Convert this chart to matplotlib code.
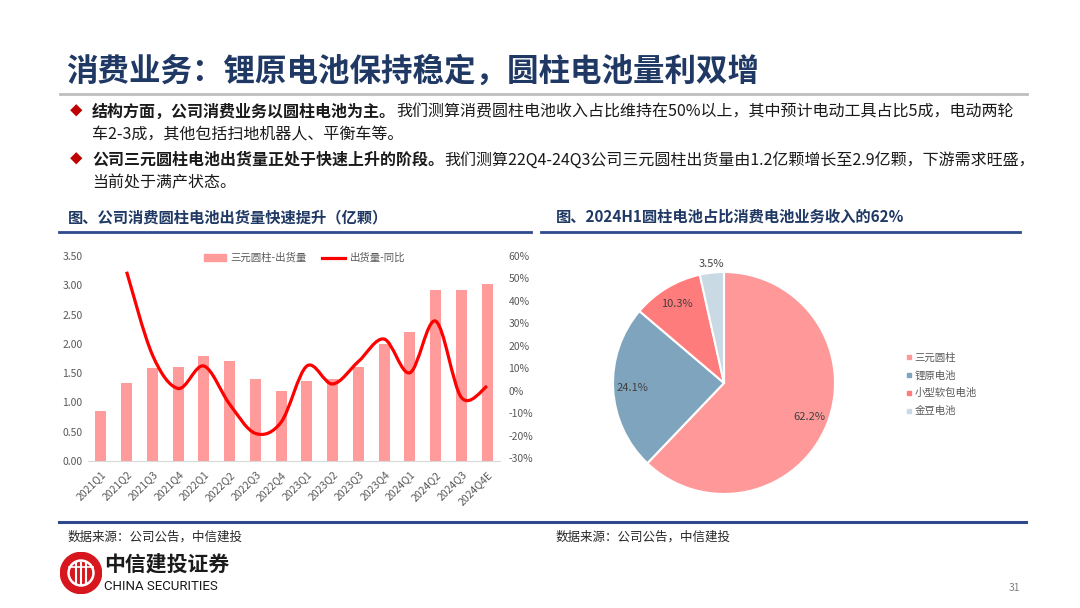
import matplotlib
matplotlib.use("Agg")
import matplotlib.pyplot as plt
from matplotlib.path import Path
from matplotlib.patches import PathPatch, Circle, Patch
from matplotlib.lines import Line2D

plt.rcParams['font.family'] = ['Noto Sans CJK SC', 'DejaVu Sans']
plt.rcParams['axes.unicode_minus'] = False

# ---- data ----
quarters = ["2021Q1", "2021Q2", "2021Q3", "2021Q4", "2022Q1", "2022Q2", "2022Q3", "2022Q4",
            "2023Q1", "2023Q2", "2023Q3", "2023Q4", "2024Q1", "2024Q2", "2024Q3", "2024Q4E"]
shipments = [0.85, 1.33, 1.58, 1.60, 1.80, 1.70, 1.40, 1.20,
             1.36, 1.40, 1.60, 2.00, 2.20, 2.92, 2.92, 3.02]
growth = [None, 53, 16, 1, 11, -6, -19, -14, 11, 3, 13, 23, 8, 31, -3, 2]

pie_labels = ["三元圆柱", "锂原电池", "小型软包电池", "金豆电池"]
pie_values = [62.2, 24.1, 10.3, 3.5]
pie_colors = ["#FF9999", "#7FA5BE", "#FF7C7C", "#CADAE5"]

W, H = 1080, 608
NAVY = "#1F3864"
GRAY = "#595959"


def fx(x):
    return x / W


def fy(y):
    return 1 - y / H


fig = plt.figure(figsize=(W / 100, H / 100), dpi=100)
fig.patch.set_facecolor("white")

# ---- header ----
fig.text(fx(66), fy(72), "消费业务：锂原电池保持稳定，圆柱电池量利双增", fontsize=22.7,
         fontweight="bold", color=NAVY, va="center", ha="left")
fig.add_artist(Line2D([fx(60), fx(1027)], [fy(94), fy(94)], color="#BFBFBF", lw=2))

renderer = fig.canvas.get_renderer()
BODY = 11.5


def rich_line(x, y, bold, normal, size=BODY):
    t = fig.text(fx(x), fy(y), bold, fontsize=size, fontweight="bold", color="#1a1a1a",
                 va="center", ha="left")
    bb = t.get_window_extent(renderer)
    fig.text(bb.x1 / W, fy(y), normal, fontsize=size, color="#1a1a1a", va="center", ha="left")


fig.text(fx(76), fy(112), "◆", fontsize=9, color="#C00000", va="center", ha="center")
rich_line(92, 112, "结构方面，公司消费业务以圆柱电池为主。",
          "我们测算消费圆柱电池收入占比维持在50%以上，其中预计电动工具占比5成，电动两轮")
fig.text(fx(92), fy(135), "车2-3成，其他包括扫地机器人、平衡车等。", fontsize=BODY,
         color="#1a1a1a", va="center", ha="left")
fig.text(fx(76), fy(160), "◆", fontsize=9, color="#C00000", va="center", ha="center")
rich_line(92, 160, "公司三元圆柱电池出货量正处于快速上升的阶段。",
          "我们测算22Q4-24Q3公司三元圆柱出货量由1.2亿颗增长至2.9亿颗，下游需求旺盛，")
fig.text(fx(92), fy(183), "当前处于满产状态。", fontsize=BODY,
         color="#1a1a1a", va="center", ha="left")

# ---- sub titles ----
fig.text(fx(68), fy(217), "图、公司消费圆柱电池出货量快速提升（亿颗）", fontsize=11,
         fontweight="bold", color=NAVY, va="center", ha="left")
fig.text(fx(556), fy(217), "图、2024H1圆柱电池占比消费电池业务收入的62%", fontsize=11,
         fontweight="bold", color=NAVY, va="center", ha="left")
fig.add_artist(Line2D([fx(59), fx(531)], [fy(232), fy(232)], color="#2E4A8C", lw=2))
fig.add_artist(Line2D([fx(541), fx(1020)], [fy(232), fy(232)], color="#2E4A8C", lw=2))
fig.add_artist(Line2D([fx(59), fx(1026)], [fy(522), fy(522)], color="#2E4A8C", lw=2.2))

fig.text(fx(68), fy(537), "数据来源：公司公告，中信建投", fontsize=9, style="italic",
         color="#262626", va="center", ha="left")
fig.text(fx(556), fy(537), "数据来源：公司公告，中信建投", fontsize=9, style="italic",
         color="#262626", va="center", ha="left")

# ---- left chart: bars + smoothed line ----
ax = fig.add_axes([fx(88), fy(461), fx(500) - fx(88), fy(256) - fy(461)])
xs = list(range(len(quarters)))
bars = ax.bar(xs, shipments, width=0.42, color="#FF9B9B", zorder=2)
ax.set_xlim(-0.5, len(quarters) - 0.5)
ax.set_ylim(0, 3.5)
ax.set_yticks([i * 0.5 for i in range(8)])
ax.set_yticklabels(["%.2f" % (i * 0.5) for i in range(8)])
ax.set_xticks(xs)
ax.set_xticklabels(quarters, rotation=45, ha="right", rotation_mode="anchor")
ax.tick_params(axis="both", length=0, labelsize=7.5, colors=GRAY, pad=4)
ax.tick_params(axis="x", pad=6)
for s in ["top", "right", "left"]:
    ax.spines[s].set_visible(False)
ax.spines["bottom"].set_color("#D9D9D9")

ax2 = ax.twinx()
ax2.set_ylim(-31.3, 59.1)
ax2.set_yticks(range(-30, 61, 10))
ax2.set_yticklabels(["%d%%" % v for v in range(-30, 61, 10)])
ax2.tick_params(axis="y", length=0, labelsize=7.5, colors=GRAY, pad=6)
for s in ax2.spines.values():
    s.set_visible(False)

# smoothed line (Catmull-Rom style bezier, like Excel's smooth line)
pts = [(x, g) for x, g in zip(xs, growth) if g is not None]
verts = [pts[0]]
codes = [Path.MOVETO]
for i in range(len(pts) - 1):
    p0 = pts[i - 1] if i > 0 else pts[i]
    p1 = pts[i]
    p2 = pts[i + 1]
    p3 = pts[i + 2] if i + 2 < len(pts) else pts[i + 1]
    c1 = (p1[0] + (p2[0] - p0[0]) / 6, p1[1] + (p2[1] - p0[1]) / 6)
    c2 = (p2[0] - (p3[0] - p1[0]) / 6, p2[1] - (p3[1] - p1[1]) / 6)
    verts += [c1, c2, p2]
    codes += [Path.CURVE4] * 3
ax2.add_patch(PathPatch(Path(verts, codes), facecolor="none", edgecolor="#FF0000",
                        lw=2.3, zorder=3))

handles = [Patch(color="#FF9B9B"), Line2D([0], [0], color="#FF0000", lw=2.3)]
ax.legend(handles, ["三元圆柱-出货量", "出货量-同比"], loc="center",
          bbox_to_anchor=(0.525, 0.99), ncol=2, frameon=False, fontsize=7.5,
          labelcolor=GRAY, handlelength=2.2, handleheight=0.6, columnspacing=1.5,
          handletextpad=0.4)

# ---- right chart: pie ----
r_px = 111
side = r_px * 2.4
pax = fig.add_axes([fx(724 - side / 2), fy(383 + side / 2), side / W, side / H])
wedges, texts, autotexts = pax.pie(pie_values, colors=pie_colors, startangle=90,
                                   counterclock=False, autopct="%.1f%%", pctdistance=0.83,
                                   wedgeprops=dict(edgecolor="white", linewidth=1.5),
                                   textprops=dict(fontsize=8, color="#404040"))
for t, v in zip(autotexts, pie_values):
    t.set_text("%.1f%%" % v)
pax.set_xlim(-1.2, 1.2)
pax.set_ylim(-1.2, 1.2)
pax.set_aspect("equal")
# small slice label sits outside the pie
autotexts[3].set_position((-0.11, 1.07))

leg_handles = [Line2D([0], [0], marker="s", ls="none", markersize=3.5,
                      markerfacecolor=c, markeredgecolor=c) for c in pie_colors]
fig.legend(leg_handles, pie_labels, loc="upper left",
           bbox_to_anchor=(fx(896), fy(343)), frameon=False, fontsize=7.5,
           labelcolor=GRAY, handlelength=0.6, handletextpad=0.3, labelspacing=0.75)

# ---- footer logo ----
lax = fig.add_axes([fx(60), fy(594), 42 / W, 42 / H])
lax.set_xlim(-1, 1)
lax.set_ylim(-1, 1)
lax.set_aspect("equal")
lax.axis("off")
lax.add_patch(Circle((0, 0), 0.98, color="#D7161E"))
lax.add_patch(Circle((0, 0), 0.62, color="white"))
lax.add_patch(Circle((0, 0), 0.5, color="#D7161E"))
for xv in [-0.25, 0, 0.25]:
    lax.plot([xv, xv], [-0.5, 0.5], color="white", lw=1.5)
lax.plot([-0.55, 0.55], [0.3, 0.3], color="white", lw=1.2)
fig.text(fx(104), fy(564), "中信建投证券", fontsize=15, fontweight="bold", color="#1a1a1a",
         va="center", ha="left")
fig.text(fx(104), fy(586), "CHINA SECURITIES", fontsize=9.5, color="#1a1a1a",
         va="center", ha="left", family=["Roboto", "DejaVu Sans"])
fig.text(fx(1020), fy(588), "31", fontsize=7.5, color="#7F7F7F", va="center", ha="right")

fig.savefig("out.png", dpi=100)
